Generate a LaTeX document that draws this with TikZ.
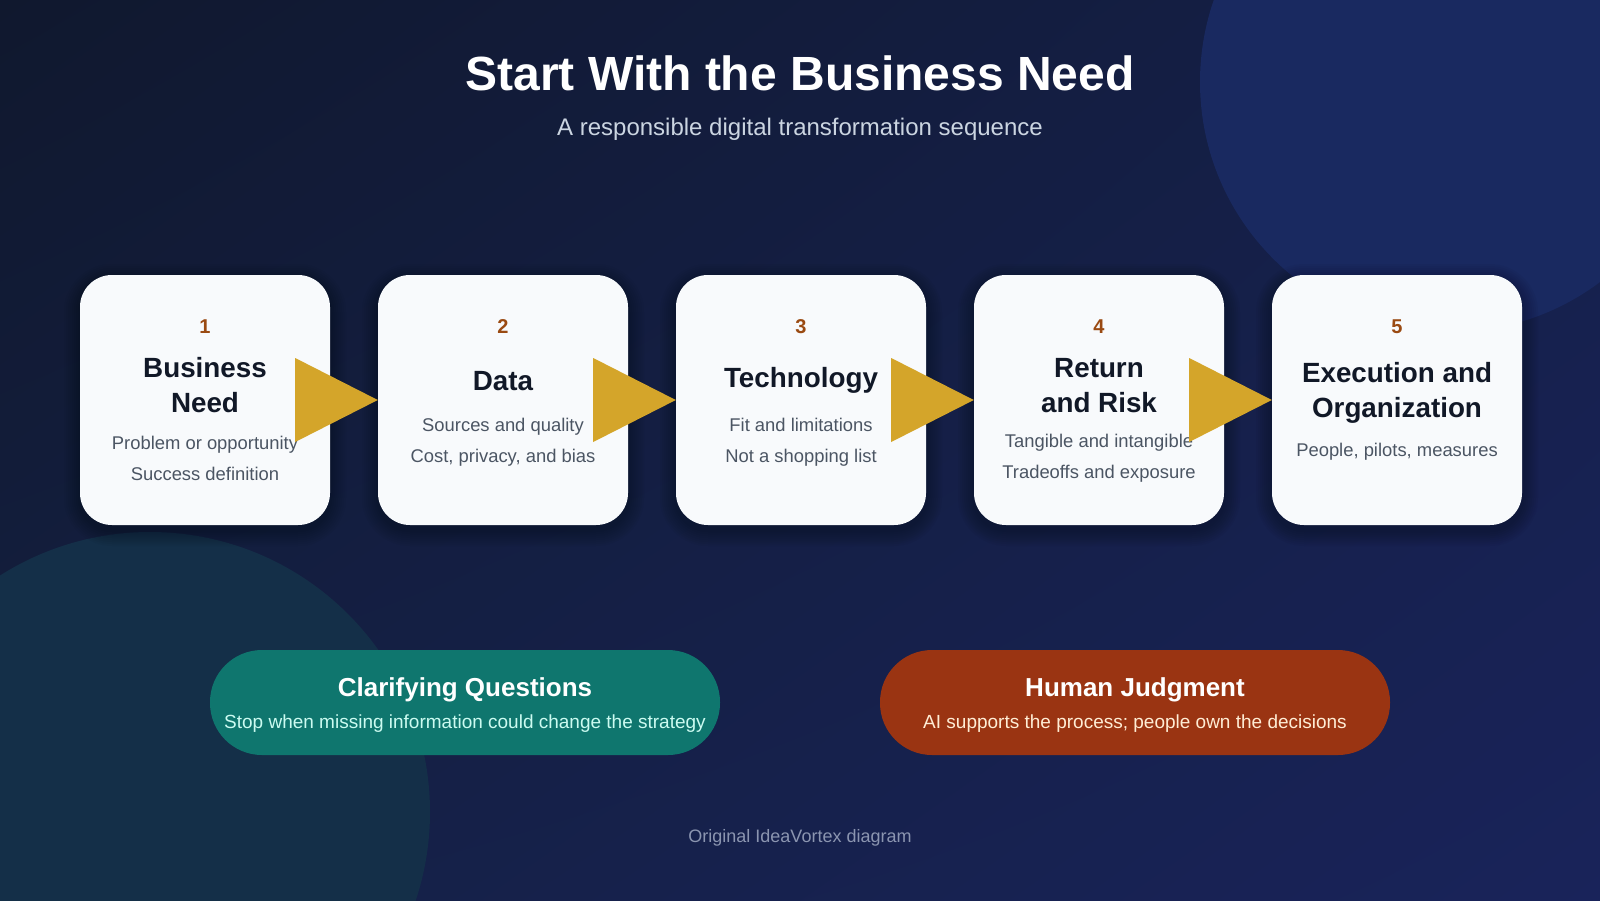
\documentclass[tikz,border=0pt]{standalone}
\usepackage{fontspec}
\setmainfont{Liberation Sans}
\usepackage{tikz}
\usetikzlibrary{
  calc,%
  shadings
}
\definecolor{bgtl}{HTML}{10182E}
\definecolor{bgtr}{HTML}{152049}
\definecolor{bgbl}{HTML}{142043}
\definecolor{bgbr}{HTML}{19235A}
\definecolor{blobblue}{HTML}{192960}
\definecolor{blobteal}{HTML}{142F48}
\definecolor{cardwhite}{HTML}{F8FAFC}
\definecolor{titleink}{HTML}{111827}
\definecolor{numbrown}{HTML}{9A4A12}
\definecolor{subgray}{HTML}{4B5563}
\definecolor{arrowgold}{HTML}{D4A52A}
\definecolor{pillteal}{HTML}{0F766E}
\definecolor{pillrust}{HTML}{9A3412}
\definecolor{tealsub}{HTML}{CCFBF1}
\definecolor{rustsub}{HTML}{FFEDD5}
\definecolor{headsub}{HTML}{CBD5E1}
\definecolor{footgray}{HTML}{8B95B0}
\tikzset{
  card/.style={fill=cardwhite, rounded corners=32pt, minimum width=250pt,
    minimum height=250pt, inner sep=0pt},
  % one layer of the soft shadow
  haze/.style={fill=black, opacity=0.03},
  pill/.style={rounded corners=52pt, minimum width=510pt, minimum height=105pt,
    inner sep=0pt},
  numtext/.style={font=\bfseries\fontsize{20}{24}\selectfont, text=numbrown, inner sep=0pt},
  cardtitle/.style={font=\bfseries\fontsize{27.8}{35}\selectfont, text=titleink,
    align=center, inner sep=0pt},
  cardsub/.style={font=\fontsize{18.4}{31}\selectfont, text=subgray, align=center,
    inner sep=0pt},
  pilltitle/.style={font=\bfseries\fontsize{26}{30}\selectfont, text=white, inner sep=0pt},
  pillsub/.style={font=\fontsize{19}{22}\selectfont, inner sep=0pt},
}

\begin{document}
\begin{tikzpicture}[x=1pt, y=-1pt]
  \useasboundingbox (0, 0) rectangle (1600, 900); %
  \shade[upper left=bgtl, upper right=bgtr, lower left=bgbl, lower right=bgbr]
    (0, 0) rectangle (1600, 900); %
  \begin{scope}
    \clip (0, 0) rectangle (1600, 900); %
    \fill[blobblue] (1450, 82) circle (250); %
    \fill[blobteal] (150, 812) circle (280); %
  \end{scope}
  % heading
  \node[font=\bfseries\fontsize{48}{56}\selectfont, text=white] (head) at (800, 73.5)
    {Start With the Business Need}; %
  \node[font=\fontsize{24}{28}\selectfont, text=headsub] (subhead) at (800, 129)
    {A responsible digital transformation sequence}; %
  % the five steps
  \foreach \i/\cx/\ty/\ttl/\sy/\sub in {
      1/205/385.5/{Business\\Need}/458/{Problem or opportunity\\Success definition},
      2/503/380.6/{Data}/442.5/{Sources and quality\\Cost, privacy, and bias},
      3/801/380.6/{Technology}/442.5/{Fit and limitations\\Not a shopping list},
      4/1099/385.5/{Return\\and Risk}/458/{Tangible and intangible\\Tradeoffs and exposure},
      5/1397/393/{Execution and\\Organization}/452/{People, pilots, measures}} {
    \foreach \k in {2,4,...,16}
      \fill[haze, rounded corners=32+\k] (\cx-125-\k, 280-\k) rectangle (\cx+125+\k, 530+\k); %
    \node[card] (c\i) at (\cx, 400) {}; %
    \node[numtext] (n\i) at (\cx, 326.5) {\i}; %
    \node[cardtitle] (t\i) at (\cx, \ty) {\ttl}; %
    \node[cardsub] (s\i) at (\cx, \sy) {\sub}; %
  }
  \foreach \i/\j in {1/2, 2/3, 3/4, 4/5}
    \fill[arrowgold] ($(c\i.east)+(-35, -42)$) -- (c\j.west) -- ($(c\i.east)+(-35, 42)$) -- cycle; %
  % the two notes
  \node[pill, fill=pillteal] (ask) at (465, 702.5) {}; %
  \node[pilltitle] (askt) at (465, 689.5) {Clarifying Questions}; %
  \node[pillsub, text=tealsub] (asks) at (465, 723.5)
    {Stop when missing information could change the strategy}; %
  \node[pill, fill=pillrust] (judge) at (1135, 702.5) {}; %
  \node[pilltitle] (judget) at (1135, 689.5) {Human Judgment}; %
  \node[pillsub, text=rustsub] (judges) at (1135, 723.5)
    {AI supports the process; people own the decisions}; %
  \node[font=\fontsize{18}{21}\selectfont, text=footgray] (foot) at (800, 837.5)
    {Original IdeaVortex diagram}; %
\end{tikzpicture}
\end{document}
